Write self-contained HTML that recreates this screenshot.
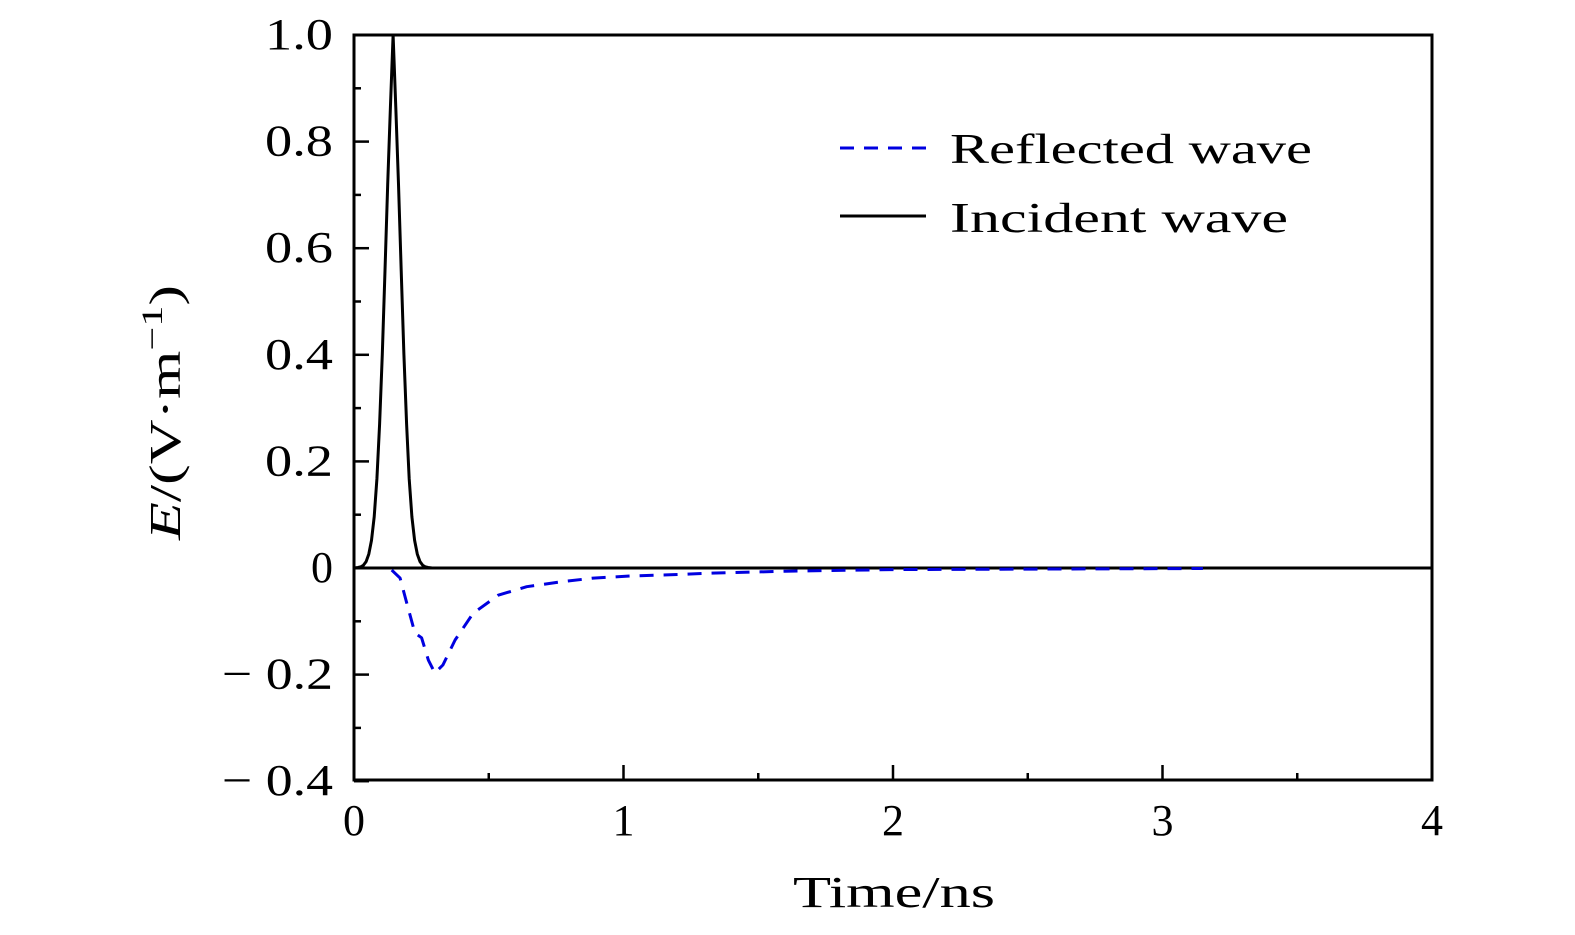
<!DOCTYPE html>
<html><head><meta charset="utf-8"><style>
html,body{margin:0;padding:0;background:#fff;}
svg{display:block;font-family:"Liberation Serif",serif;}
</style></head><body>
<svg id="chart" width="1575" height="935" viewBox="0 0 1575 935" xmlns="http://www.w3.org/2000/svg">
<g id="axes"></g>
<g id="series"></g>
<g>
  <line x1="840" y1="148" x2="926" y2="148" stroke="#0000e0" stroke-width="3" stroke-dasharray="14,10"/>
  <text x="950" y="163" font-size="42" textLength="362" lengthAdjust="spacingAndGlyphs">Reflected wave</text>
  <line x1="840" y1="216" x2="926" y2="216" stroke="#000" stroke-width="3"/>
  <text x="950" y="232" font-size="42" textLength="338" lengthAdjust="spacingAndGlyphs">Incident wave</text>
</g>
<text x="793" y="907" font-size="44" textLength="202" lengthAdjust="spacingAndGlyphs">Time/ns</text>
<text transform="translate(180,540) rotate(-90)" font-size="44" textLength="255" lengthAdjust="spacingAndGlyphs"><tspan font-style="italic">E</tspan>/(V·m<tspan dy="-18" font-size="30">−1</tspan><tspan dy="18">)</tspan></text>
</svg>
<script>
const xTicks=[0,1,2,3,4];
const yTicks=[-0.4,-0.2,0,0.2,0.4,0.6,0.8,1.0];
const yTickLabels=["\u2212 0.4","\u2212 0.2","0","0.2","0.4","0.6","0.8","1.0"];
const incidentT=[0,0.015,0.025,0.035,0.045,0.055,0.065,0.075,0.085,0.095,0.105,0.115,0.125,0.135,0.145,0.155,0.165,0.175,0.185,0.195,0.205,0.215,0.225,0.235,0.245,0.255,0.265,0.275,0.29,4];
const incidentE=[0,0.001,0.002,0.005,0.012,0.026,0.052,0.096,0.167,0.27,0.401,0.558,0.72,0.864,1.0,0.864,0.72,0.558,0.401,0.27,0.167,0.096,0.052,0.026,0.012,0.005,0.002,0.001,0,0];
const reflectedT=[0.14,0.171,0.196,0.226,0.251,0.276,0.30,0.33,0.375,0.442,0.535,0.641,0.765,0.888,1.025,1.16,1.31,1.6,2.0,2.5,3.15];
const reflectedE=[-0.004,-0.019,-0.066,-0.122,-0.131,-0.173,-0.197,-0.182,-0.135,-0.085,-0.051,-0.035,-0.026,-0.019,-0.015,-0.013,-0.010,-0.006,-0.003,-0.002,-0.001];
const NS="http://www.w3.org/2000/svg";
const X=t=>354+t*(1078/4);
const Y=v=>568-v*(533/1.0);
const axes=document.getElementById('axes');
const series=document.getElementById('series');
function mk(tag,attrs,parent){const e=document.createElementNS(NS,tag);for(const k in attrs)e.setAttribute(k,attrs[k]);parent.appendChild(e);return e;}
let l=mk('rect',{x:354,y:35,width:1078,height:745,fill:'none',stroke:'#000','stroke-width':3},axes);


l=mk('line',{x1:354,y1:568,x2:1432,y2:568,stroke:'#000','stroke-width':3},axes);


xTicks.forEach(t=>{
  const tk=mk('line',{x1:X(t),y1:780,x2:X(t),y2:765,stroke:'#000','stroke-width':2.5},axes);
  
  
  if(t<4){const m=mk('line',{x1:X(t+0.5),y1:780,x2:X(t+0.5),y2:773,stroke:'#000','stroke-width':2.5},axes);
  
  }
  const tx=mk('text',{x:X(t),y:835,'font-size':44,'text-anchor':'middle'},axes);
  tx.textContent=String(t);
  
  
});
yTicks.forEach((v,i)=>{
  const tk=mk('line',{x1:354,y1:Y(v),x2:369,y2:Y(v),stroke:'#000','stroke-width':2.5},axes);
  
  
  if(v<1){const m=mk('line',{x1:354,y1:Y(v+0.1),x2:361,y2:Y(v+0.1),stroke:'#000','stroke-width':2.5},axes);
  
  }
  const lab=yTickLabels[i];
  const w=lab.length>=5?111:(lab.length===3?68:0);
  const attrs={x:333,y:Y(v)+14,'font-size':44,'text-anchor':'end'};
  if(w){attrs.textLength=w;attrs.lengthAdjust='spacingAndGlyphs';}
  const tx=mk('text',attrs,axes);
  tx.textContent=lab;
  
  
});
const pts=(T,E)=>T.map((t,i)=>X(t).toFixed(1)+','+Y(E[i]).toFixed(1)).join(' ');
const inc=mk('polyline',{points:pts(incidentT,incidentE),fill:'none',stroke:'#000','stroke-width':3,'stroke-linejoin':'round'},series);


const ref=mk('polyline',{points:pts(reflectedT,reflectedE),fill:'none',stroke:'#0000e0','stroke-width':3,'stroke-dasharray':'14,10','stroke-linejoin':'round'},series);


</script>
</body></html>
